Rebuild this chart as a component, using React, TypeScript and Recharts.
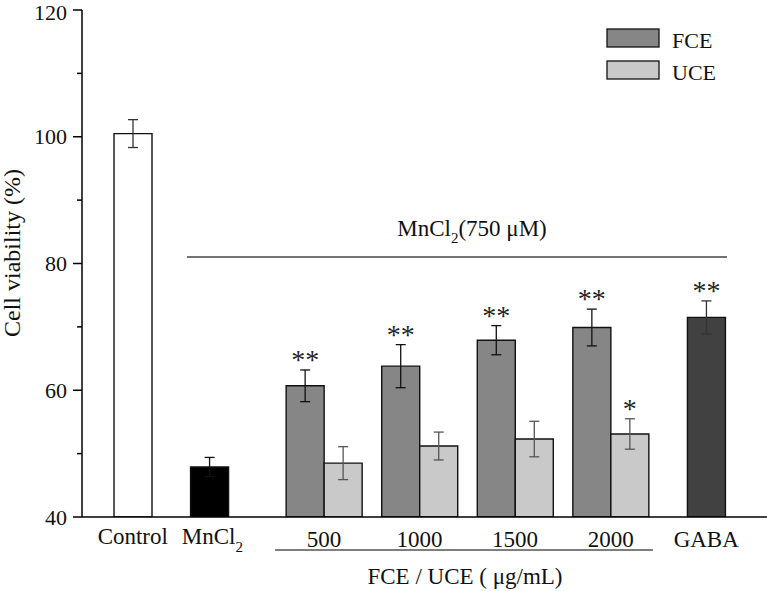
import React from 'react';
import { BarChart, Bar, XAxis, YAxis, ErrorBar, Cell, LabelList } from 'recharts';

// ---------- data ----------
const categories = ['Control', 'MnCl2', '500', '1000', '1500', '2000', 'GABA'];
const concentrationLabels = ['500', '1000', '1500', '2000'];
const legendNames = ['FCE', 'UCE'];

const controlGabaValues: (number | null)[] = [100.5, null, null, null, null, null, 71.5];
const controlGabaErrors: (number | null)[] = [2.2, null, null, null, null, null, 2.6];
const controlGabaSig = ['', '', '', '', '', '', '**'];

const mnCl2Values: (number | null)[] = [null, 47.9, null, null, null, null, null];
const mnCl2Errors: (number | null)[] = [null, 1.5, null, null, null, null, null];

const fceValues: (number | null)[] = [null, null, 60.7, 63.8, 67.9, 69.9, null];
const fceErrors: (number | null)[] = [null, null, 2.5, 3.4, 2.3, 2.9, null];
const fceSig = ['', '', '**', '**', '**', '**', ''];

const uceValues: (number | null)[] = [null, null, 48.5, 51.2, 52.3, 53.1, null];
const uceErrors: (number | null)[] = [null, null, 2.6, 2.2, 2.8, 2.4, null];
const uceSig = ['', '', '', '', '', '*', ''];

const yDomain = [40, 120];
const yTicks = [40, 50, 60, 70, 80, 90, 100, 110, 120];
const yLabelTicks = [40, 60, 80, 100, 120];

// ---------- styles ----------
const FONT = '"Liberation Serif", "Times New Roman", serif';
const BAR_W = 38;
const COLORS = {
  control: '#ffffff',
  mncl2: '#000000',
  fce: '#868686',
  uce: '#c9c9c9',
  gaba: '#414141',
  stroke: '#111111',
};
const singleFill = ['control', '', '', '', '', '', 'gaba'];
const legendColors = [COLORS.fce, COLORS.uce];

const data = categories.map((c, i) => ({
  category: c,
  single: controlGabaValues[i],
  singleErr: controlGabaErrors[i],
  left: mnCl2Values[i] ?? fceValues[i],
  leftErr: mnCl2Errors[i] ?? fceErrors[i],
  uce: uceValues[i],
  uceErr: uceErrors[i],
}));

const leftValues = categories.map((_, i) => mnCl2Values[i] ?? fceValues[i]);
const leftErrors = categories.map((_, i) => mnCl2Errors[i] ?? fceErrors[i]);

const makeSig = (vals: (number | null)[], errs: (number | null)[], sig: string[]) => (props: any) => {
  const vb = props.viewBox || {};
  const x = props.x ?? vb.x;
  const y = props.y ?? vb.y;
  const width = props.width ?? vb.width;
  const height = props.height ?? vb.height;
  const idx = categories.indexOf(props.value);
  if (idx < 0) return null;
  const s = sig[idx];
  const v = vals[idx];
  const e = errs[idx];
  if (!s || v == null || e == null || !height) return null;
  const pxPerUnit = Math.abs(height) / (v - yDomain[0]);
  const top = y - e * pxPerUnit;
  return (
    <text x={x + width / 2} y={top - 1} textAnchor="middle" fontFamily={FONT} fontSize={28} fill="#222">
      {s}
    </text>
  );
};

const YTick = (props: any) => {
  const { x, y, payload } = props;
  const v = payload.value;
  const major = yLabelTicks.includes(v);
  const axisX = x + 15;
  return (
    <g>
      <line x1={axisX - (major ? 9 : 5)} x2={axisX} y1={y} y2={y} stroke="#000" strokeWidth={1.5} />
      {major && (
        <text x={x} y={Math.max(y + 7.5, 20)} textAnchor="end" fontFamily={FONT} fontSize={22} fill="#111">
          {v}
        </text>
      )}
    </g>
  );
};

const XTick = (props: any) => {
  const { x, y, payload } = props;
  const v = payload.value;
  if (v === 'MnCl2') {
    return (
      <text x={x - BAR_W / 2 + 3} y={y + 27} textAnchor="middle" fontFamily={FONT} fontSize={23} fill="#111">
        MnCl<tspan fontSize={15} dy={8}>2</tspan>
      </text>
    );
  }
  return (
    <text
      x={x}
      y={y + (concentrationLabels.includes(v) || v === 'GABA' ? 30 : 27)}
      textAnchor="middle"
      fontFamily={FONT}
      fontSize={23}
      fill="#111"
    >
      {v}
    </text>
  );
};

export default function App() {
  return (
    <div style={{ position: 'absolute', left: 0, top: 0, width: 767, height: 591, background: '#fff' }}>
      <BarChart
        width={767}
        height={591}
        data={data}
        margin={{ top: 10, right: 0, bottom: 44, left: 22 }}
        barGap={0}
      >
        <XAxis
          xAxisId="main"
          dataKey="category"
          type="category"
          height={30}
          padding={{ left: 3, right: 13 }}
          tickLine={false}
          tickSize={0}
          tickMargin={0}
          interval={0}
          axisLine={{ stroke: '#000', strokeWidth: 1.5 }}
          tick={<XTick />}
        />
        <XAxis xAxisId="pair" dataKey="category" type="category" hide padding={{ left: 3, right: 13 }} />
        <YAxis
          domain={yDomain}
          ticks={yTicks}
          type="number"
          width={60}
          tickSize={8}
          tickMargin={7}
          tickLine={false}
          interval={0}
          allowDataOverflow
          axisLine={{ stroke: '#000', strokeWidth: 1.5 }}
          tick={<YTick />}
        />
        <Bar
          xAxisId="main"
          dataKey="single"
          name="single"
          barSize={BAR_W}
          stroke={COLORS.stroke}
          strokeWidth={1.4}
          fill={COLORS.control}
          legendType="none"
          isAnimationActive={false}
        >
          {data.map((_, i) => (
            <Cell key={i} fill={(COLORS as any)[singleFill[i]] || COLORS.control} />
          ))}
          <ErrorBar dataKey="singleErr" width={5} stroke="#333" strokeWidth={1.3} />
          <LabelList dataKey="category" content={makeSig(controlGabaValues, controlGabaErrors, controlGabaSig)} />
        </Bar>
        <Bar
          xAxisId="pair"
          dataKey="left"
          name="FCE"
          barSize={BAR_W}
          stroke={COLORS.stroke}
          strokeWidth={1.4}
          fill={COLORS.fce}
          isAnimationActive={false}
        >
          {data.map((_, i) => (
            <Cell key={i} fill={mnCl2Values[i] != null ? COLORS.mncl2 : COLORS.fce} />
          ))}
          <ErrorBar dataKey="leftErr" width={5} stroke="#111" strokeWidth={1.3} />
          <LabelList dataKey="category" content={makeSig(leftValues, leftErrors, fceSig)} />
        </Bar>
        <Bar
          xAxisId="pair"
          dataKey="uce"
          name="UCE"
          barSize={BAR_W}
          stroke={COLORS.stroke}
          strokeWidth={1.4}
          fill={COLORS.uce}
          isAnimationActive={false}
        >
          <ErrorBar dataKey="uceErr" width={5} stroke="#555" strokeWidth={1.3} />
          <LabelList dataKey="category" content={makeSig(uceValues, uceErrors, uceSig)} />
        </Bar>
      </BarChart>
      <svg
        width={767}
        height={591}
        style={{ position: 'absolute', left: 0, top: 0, pointerEvents: 'none' }}
      >
        {legendNames.map((name, i) => (
          <g key={name}>
            <rect x={607} y={29 + i * 32} width={52} height={18} fill={legendColors[i]} stroke={COLORS.stroke} strokeWidth={1.3} />
            <text x={672} y={48 + i * 32} fontFamily={FONT} fontSize={22} fill="#111">
              {name}
            </text>
          </g>
        ))}
        <text
          transform="translate(20,253) rotate(-90)"
          textAnchor="middle"
          fontFamily={FONT}
          fontSize={24}
          fill="#111"
        >
          Cell viability (%)
        </text>
        <text x={472} y={236} textAnchor="middle" fontFamily={FONT} fontSize={23} fill="#111">
          MnCl<tspan fontSize={15} dy={7}>2</tspan>
          <tspan dy={-7}>(750 μM)</tspan>
        </text>
        <line x1={187} x2={727} y1={257} y2={257} stroke="#444" strokeWidth={1.3} />
        <line x1={275} x2={653} y1={550} y2={550} stroke="#555" strokeWidth={1.3} />
        <text x={465} y={584} textAnchor="middle" fontFamily={FONT} fontSize={23} fill="#111">
          FCE / UCE ( μg/mL)
        </text>
      </svg>
    </div>
  );
}
